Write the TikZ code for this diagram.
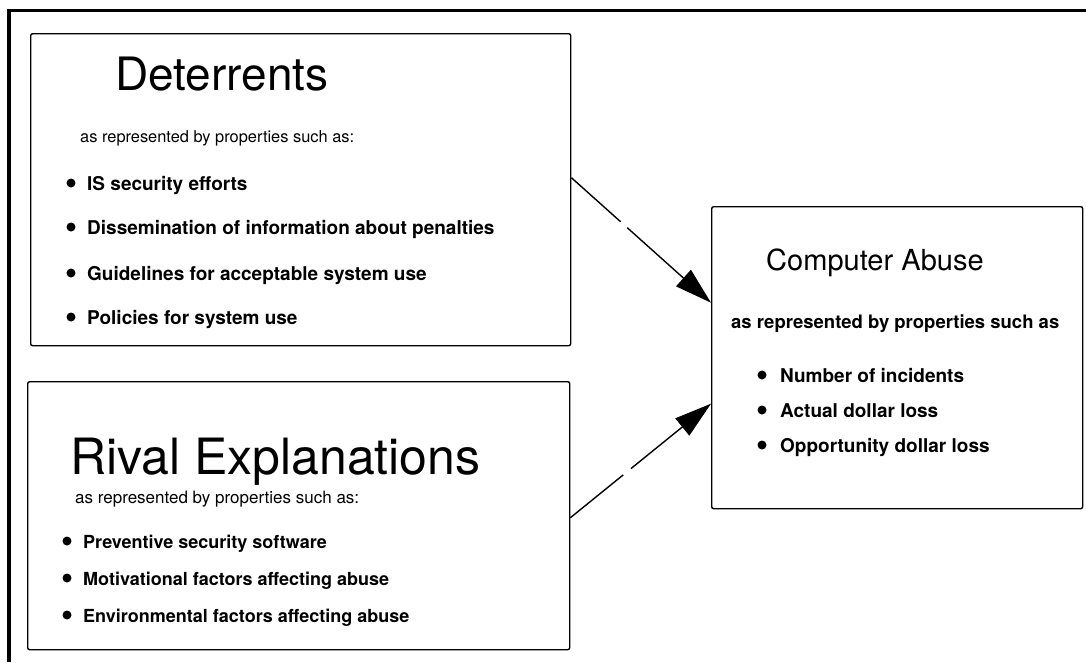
\documentclass[tikz,border=0pt]{standalone}
\usepackage{fontspec}
\setmainfont{TeX Gyre Heros}
\usetikzlibrary{arrows.meta,calc}
\begin{document}
\begin{tikzpicture}[x=1pt,y=-1pt,
  panel/.style={draw, line width=1.4pt, rounded corners=2pt, anchor=north west, inner sep=0pt},
  heading/.style={anchor=base west, inner sep=0pt, font=\fontsize{#1}{#1}\selectfont},
  lead/.style={anchor=base west, inner sep=0pt, font=\fontsize{#1}{#1}\selectfont},
  leadbold/.style={anchor=base west, inner sep=0pt, font=\fontsize{#1}{#1}\selectfont\bfseries},
  item/.style={anchor=base west, inner sep=0pt, font=\fontsize{#1}{#1}\selectfont\bfseries},
  bulletdot/.style={circle, fill, inner sep=0pt, minimum size=9pt},
  conn/.style={line width=1.4pt, -{Triangle[length=37pt,width=22pt]}}
]
\useasboundingbox (0,0) rectangle (1086,662);

% outer frame (top and left edges)
\draw[line width=3.5pt] (9,662) -- (9,10.5) -- (1086,10.5);

% the three panels
\node[panel, minimum width=540pt, minimum height=312pt] (det) at (30,33) {};
\node[panel, minimum width=542pt, minimum height=268pt] (riv) at (27,381) {};
\node[panel, minimum width=371pt, minimum height=302pt] (abuse) at (711,206) {};

% Deterrents
\node[heading=46] (detT) at (115,90) {Deterrents};
\node[lead=16.4] (detS) at (80,142) {as represented by properties such as:};
\node[bulletdot] (db1) at (71,183) {};
\node[item=19] (dt1) at (87,190) {IS security efforts};
\node[bulletdot] (db2) at (71,227) {};
\node[item=19] (dt2) at (87,234) {Dissemination of information about penalties};
\node[bulletdot] (db3) at (71,273) {};
\node[item=19] (dt3) at (87,280) {Guidelines for acceptable system use};
\node[bulletdot] (db4) at (71,317) {};
\node[item=19] (dt4) at (87,324) {Policies for system use};

% Rival Explanations
\node[heading=50] (rivT) at (70,474) {Rival Explanations};
\node[lead=17] (rivS) at (75,503) {as represented by properties such as:};
\node[bulletdot] (rb1) at (67,541) {};
\node[item=18] (rt1) at (83,548) {Preventive security software};
\node[bulletdot] (rb2) at (67,578) {};
\node[item=18] (rt2) at (83,585) {Motivational factors affecting abuse};
\node[bulletdot] (rb3) at (67,615) {};
\node[item=18] (rt3) at (83,622) {Environmental factors affecting abuse};

% Computer Abuse
\node[heading=29] (abT) at (766,270) {Computer Abuse};
\node[leadbold=18.5] (abS) at (731,328) {as represented by properties such as};
\node[bulletdot] (ab1) at (762,375) {};
\node[item=19] (at1) at (780,382) {Number of incidents};
\node[bulletdot] (ab2) at (762,410) {};
\node[item=19] (at2) at (780,417) {Actual dollar loss};
\node[bulletdot] (ab3) at (762,445) {};
\node[item=19] (at3) at (780,452) {Opportunity dollar loss};

% influences
\draw[conn, dash pattern=on 66pt off 9pt on 400pt] ([yshift=12pt]det.east) -- ([yshift=55pt]abuse.west);
\draw[conn, dash pattern=on 68pt off 10pt on 400pt] ([yshift=-2pt]riv.east) -- ([yshift=-46pt]abuse.west);
\end{tikzpicture}
\end{document}
